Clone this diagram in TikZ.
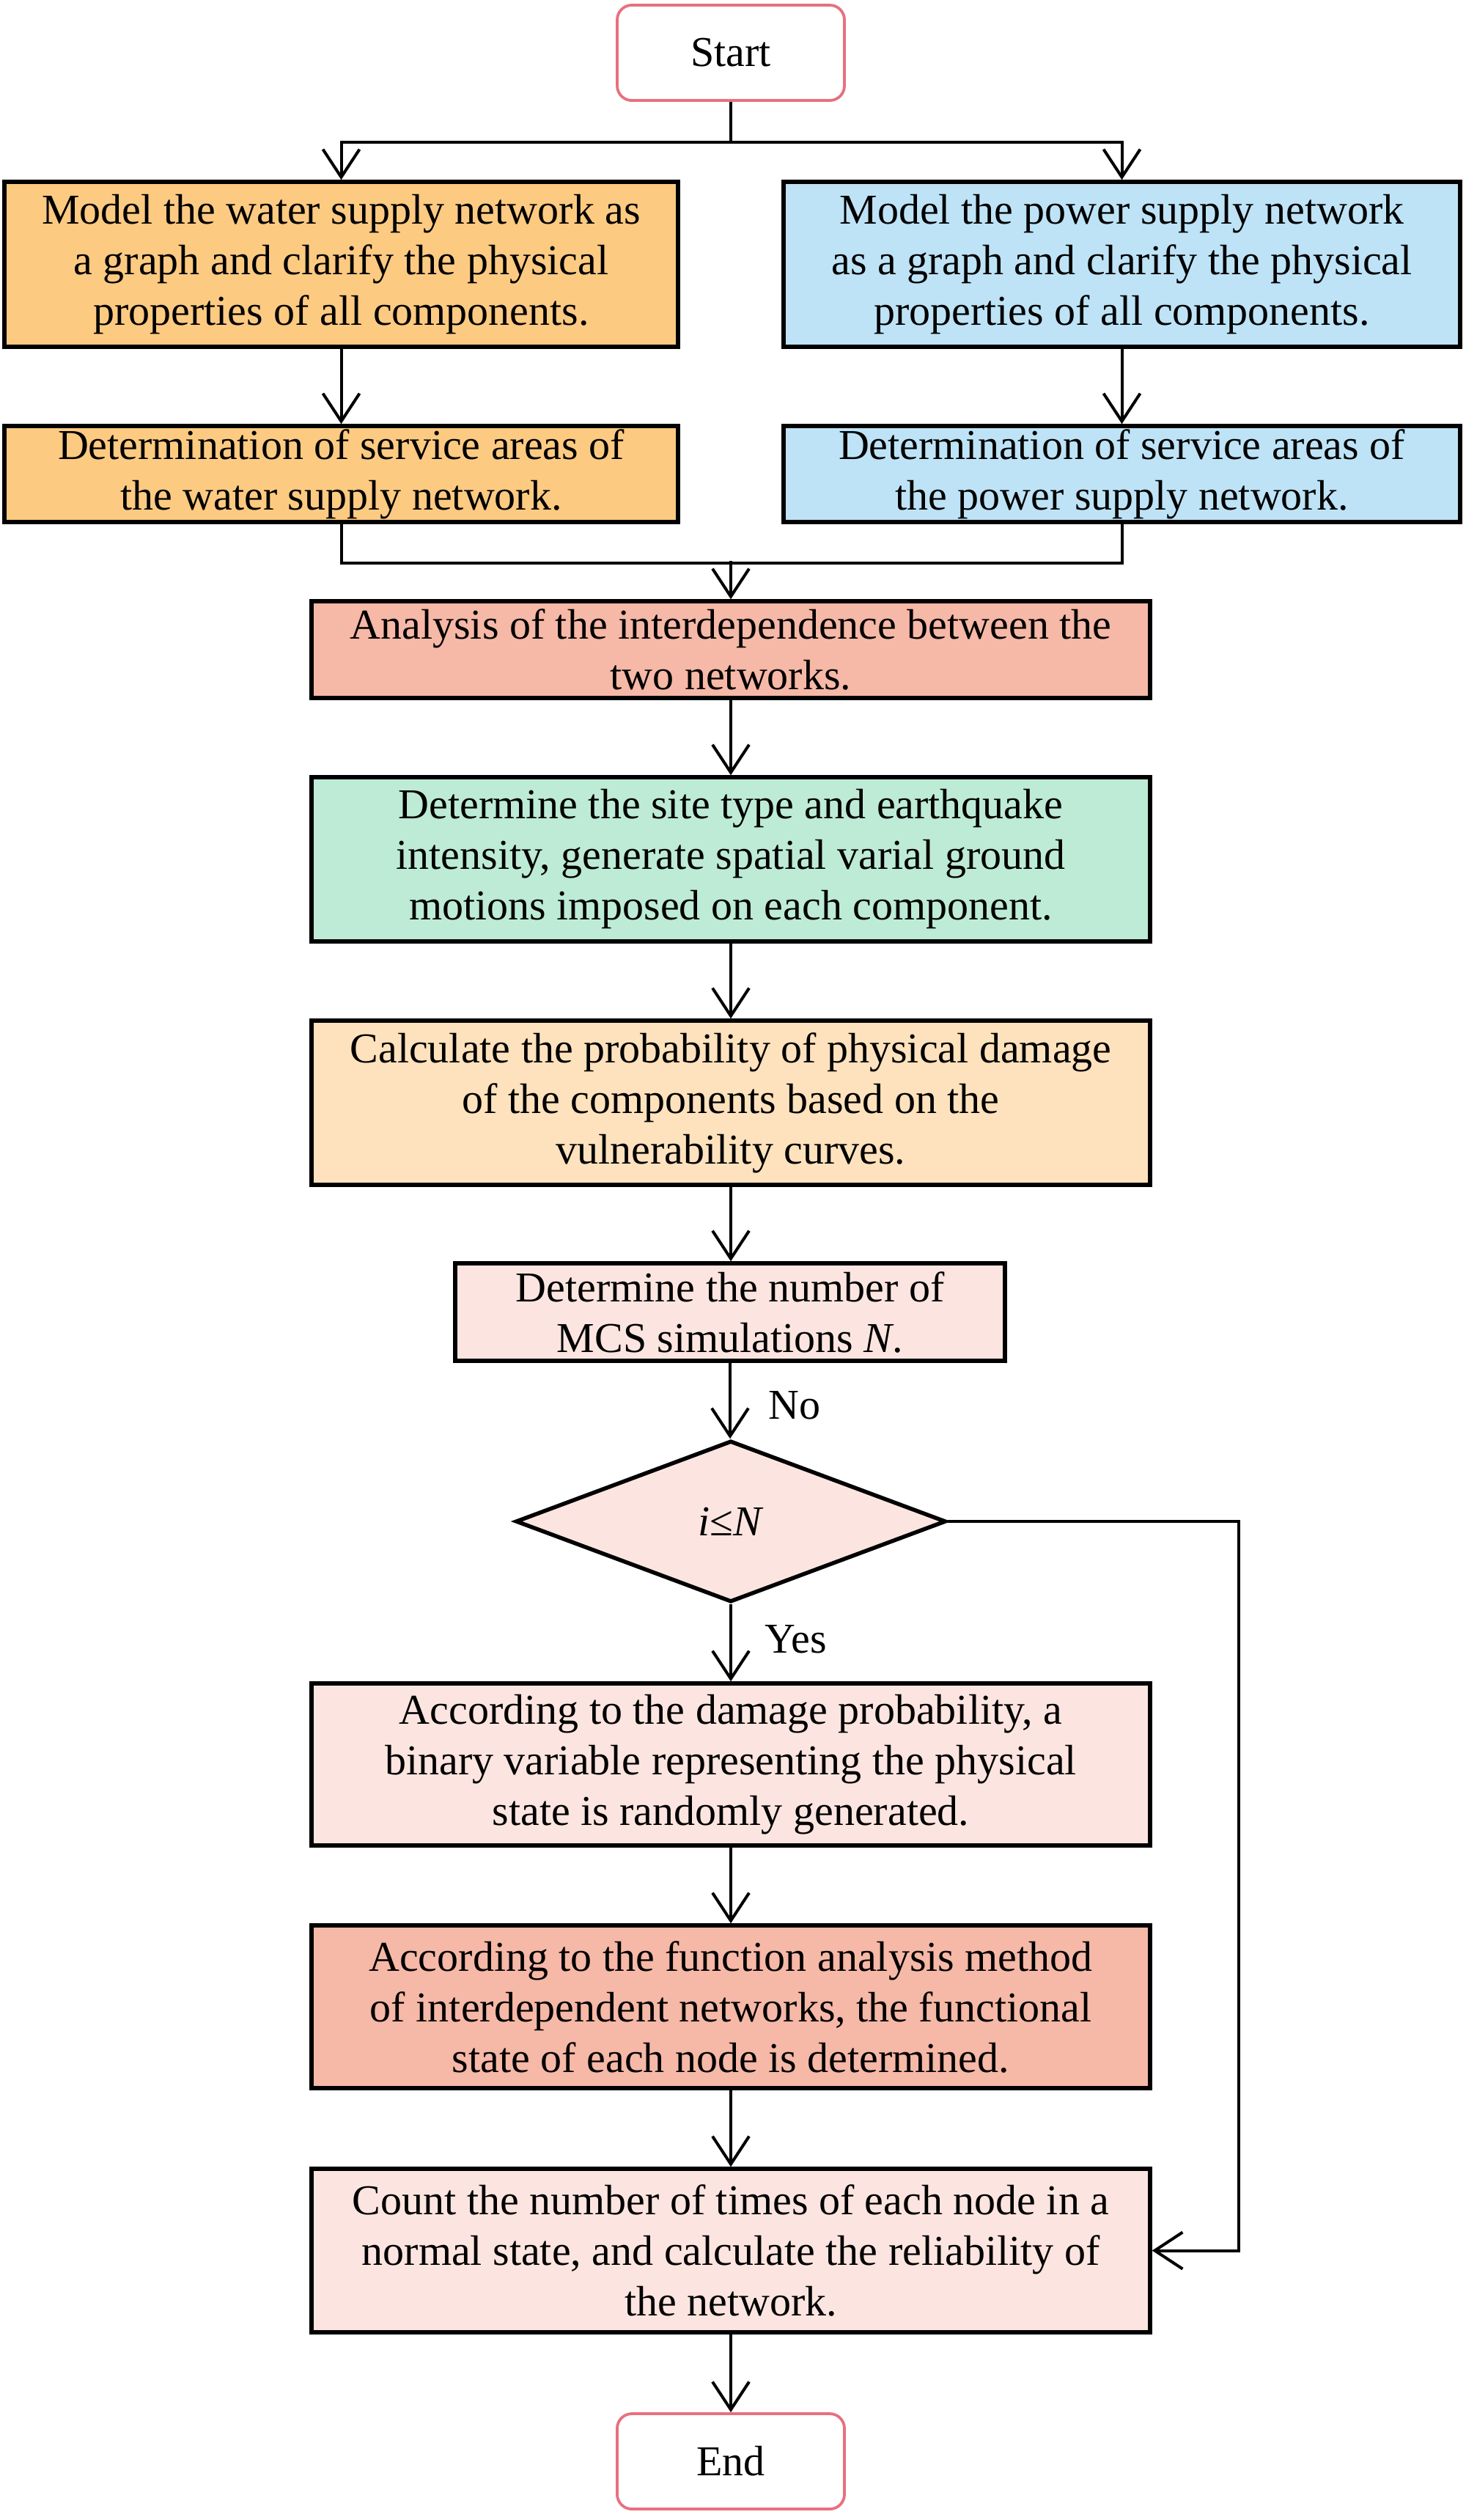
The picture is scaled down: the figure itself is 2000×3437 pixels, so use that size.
\documentclass[tikz,border=0pt]{standalone}
\usepackage{fontspec}
\setmainfont{Liberation Serif}
\usetikzlibrary{arrows.meta,shapes.geometric}
\definecolor{water}{HTML}{FDCA82}
\definecolor{power}{HTML}{BEE3F6}
\definecolor{salmon}{HTML}{F6B8A7}
\definecolor{mint}{HTML}{BDEBD6}
\definecolor{peach}{HTML}{FEE2BD}
\definecolor{blush}{HTML}{FCE5E0}
\definecolor{termred}{HTML}{E8707F}
\begin{document}
\begin{tikzpicture}[x=0.5pt,y=-0.5pt,
  every node/.style={font=\fontsize{29}{34.5}\selectfont},
  box/.style={draw=black, line width=2.75pt, align=center, inner sep=0pt},
  term/.style={draw=termred, line width=1.9pt, rounded corners=10pt, fill=white, align=center, minimum width=155pt, minimum height=65pt},
  conn/.style={line width=2pt},
  arr/.style={conn, -{Straight Barb[length=19pt,width=25pt]}},
]
\useasboundingbox (0,0) rectangle (2000,3437);
\fill[white] (0,0) rectangle (2000,3437);

\node[term] (start) at (997,72) {Start};
\node[box, fill=water, minimum width=459.5pt, minimum height=112.5pt] (w1) at (465.5,360.5)
  {Model the water supply network as\\ a graph and clarify the physical\\ properties of all components.};
\node[box, fill=power, minimum width=461.5pt, minimum height=112.5pt] (p1) at (1530.5,360.5)
  {Model the power supply network\\ as a graph and clarify the physical\\ properties of all components.};
\node[box, fill=water, minimum width=459.5pt, minimum height=65.5pt] (w2) at (465.5,646.5)
  {Determination of service areas of\\ the water supply network.};
\node[box, fill=power, minimum width=461.5pt, minimum height=65.5pt] (p2) at (1530.5,646.5)
  {Determination of service areas of\\ the power supply network.};
\node[box, fill=salmon, minimum width=572pt, minimum height=66pt] (ana) at (997,886)
  {Analysis of the interdependence between the\\ two networks.};
\node[box, fill=mint, minimum width=572pt, minimum height=112pt] (site) at (997,1172)
  {Determine the site type and earthquake\\ intensity, generate spatial varial ground\\ motions imposed on each component.};
\node[box, fill=peach, minimum width=572pt, minimum height=112pt] (calc) at (997,1504)
  {Calculate the probability of physical damage\\ of the components based on the\\ vulnerability curves.};
\node[box, fill=blush, minimum width=375pt, minimum height=66.5pt] (mcs) at (996,1789.5)
  {Determine the number of\\ MCS simulations \textit{N}.};
\node[box, diamond, fill=blush, minimum width=293.5pt, minimum height=110pt] (dec) at (997,2075)
  {\textit{i}≤\textit{N}};
\node[box, fill=blush, minimum width=572pt, minimum height=110.5pt] (acc) at (997,2406.5)
  {According to the damage probability, a\\ binary variable representing the physical\\ state is randomly generated.};
\node[box, fill=salmon, minimum width=572pt, minimum height=111pt] (func) at (997,2737)
  {According to the function analysis method\\ of interdependent networks, the functional\\ state of each node is determined.};
\node[box, fill=blush, minimum width=572pt, minimum height=111.5pt] (count) at (997,3069.5)
  {Count the number of times of each node in a\\ normal state, and calculate the reliability of\\ the network.};
\node[term] (end) at (997,3357) {End};

\node (no) at (1084,1917) {No};
\node (yes) at (1086,2236) {Yes};

\coordinate (split) at (997,194);
\coordinate (merge) at (997,765);
\coordinate (loopc) at (1690,2075);

\draw[conn] (start.south) -- (split);
\draw[arr] (split) -| (w1.north);
\draw[arr] (split) -| (p1.north);
\draw[arr] (w1) -- (w2);
\draw[arr] (p1) -- (p2);
\draw[conn] (w2.south) -- ++(0,53) -| (p2.south);
\draw[arr] (merge) -- (ana);
\draw[arr] (ana) -- (site);
\draw[arr] (site) -- (calc);
\draw[arr] (calc.south) -- (calc.south |- mcs.north);
\draw[arr] (mcs.south) -- (mcs.south |- dec.north);
\draw[arr] (dec) -- (acc);
\draw[arr] (acc) -- (func);
\draw[arr] (func) -- (count);
\draw[arr] (count) -- (end);
\draw[arr] (dec.east) -- (loopc) |- (count.east);
\end{tikzpicture}
\end{document}
